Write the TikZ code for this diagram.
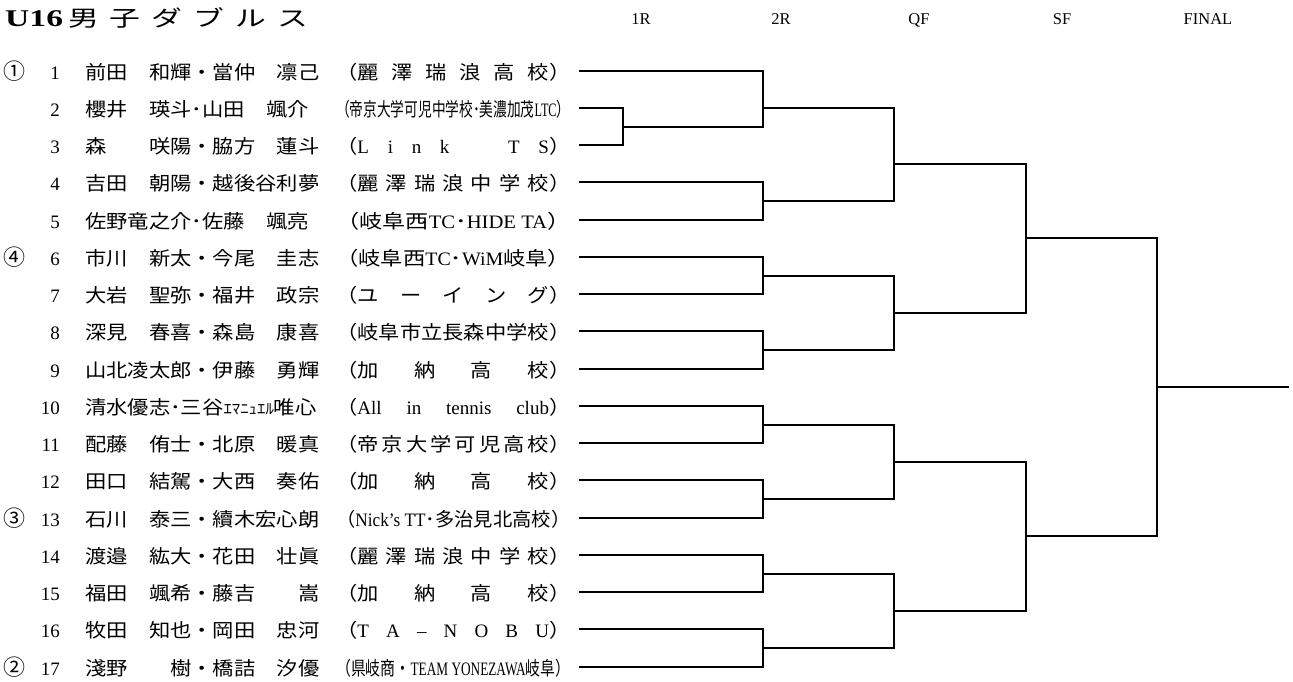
\documentclass[tikz,border=0pt]{standalone}
\usepackage{fontspec}
\usepackage{graphicx}
\setmainfont{Liberation Serif}
\newfontfamily\jp[FakeStretch=1.12]{Noto Sans CJK JP}
\newfontfamily\jpc{Noto Sans CJK JP}
\newfontfamily\jpt[FakeStretch=1.4]{Noto Sans CJK JP}
\newfontfamily\latt[FakeStretch=1.4]{Liberation Serif}
\newlength\orgW \setlength\orgW{234.08pt}
\newcommand\gap{\hskip 0pt plus 1fil\relax}
\newcommand\odist[1]{\makebox[\orgW][s]{#1}}
\newcommand\ofit[1]{\resizebox{\orgW}{\height}{#1}}
\newcommand\lat[1]{{\rmfamily #1}}
\newcommand\player[3]{%
  \pgfmathsetmacro\ry{70.7+(#1-1)*37.25}%
  \node[numtxt] (num#1) at (60,\ry+8.3) {#1};
  \node[nametxt] (name#1) at (85,\ry+8.3) {#2};
  \node[orgtxt] (org#1) at (336,\ry+8.3) {#3};
  \coordinate (r#1) at (579,\ry);
}
\newcommand\seed[2]{%
  \pgfmathsetmacro\ry{70.7+(#1-1)*37.25}%
  \node[seedtxt] (seed#1) at (14,\ry+9.0) {#2};
}
\begin{document}
\begin{tikzpicture}[x=1pt,y=-1pt,
  numtxt/.style={anchor=base east,inner sep=0pt,font=\rmfamily\fontsize{19}{19}\selectfont},
  nametxt/.style={anchor=base west,inner sep=0pt,font=\jp\fontsize{19}{19}\selectfont},
  orgtxt/.style={anchor=base west,inner sep=0pt,font=\jp\fontsize{19}{19}\selectfont},
  seedtxt/.style={anchor=base,inner sep=0pt,font=\jpc\fontsize{22}{22}\selectfont},
  hdr/.style={anchor=base,inner sep=0pt,font=\rmfamily\fontsize{16.5}{16.5}\selectfont},
  bracket/.style={line width=2pt,black,line join=miter}]
\useasboundingbox (0,0) rectangle (1293,681);

% title and round headers
\node[anchor=base west,inner sep=0pt] (title) at (5,26)
  {{\latt\bfseries\fontsize{24}{24}\selectfont U16}\hspace{5pt}{\jpt\fontsize{22}{22}\selectfont 男\hspace{11pt}子\hspace{11pt}ダ\hspace{11pt}ブ\hspace{11pt}ル\hspace{11pt}ス}};
\node[hdr] (h1) at (641,24) {1R};
\node[hdr] (h2) at (781,24) {2R};
\node[hdr] (h3) at (919,24) {QF};
\node[hdr] (h4) at (1062,24) {SF};
\node[hdr] (h5) at (1208,24) {FINAL};

% seeds
\seed{1}{①}
\seed{6}{④}
\seed{13}{③}
\seed{17}{②}

% players
\player{1}{前田　和輝・當仲　凛己}{\odist{（麗\gap 澤\gap 瑞\gap 浪\gap 高\gap 校）}}
\player{2}{櫻井　瑛斗･山田　颯介}{\ofit{（帝京大学可児中学校･美濃加茂\lat{LTC}）}}
\player{3}{森　　咲陽・脇方　蓮斗}{\odist{（\lat{L}\gap\lat{i}\gap\lat{n}\gap\lat{k}\gap 　\gap\lat{T}\gap\lat{S}）}}
\player{4}{吉田　朝陽・越後谷利夢}{\odist{（麗\gap 澤\gap 瑞\gap 浪\gap 中\gap 学\gap 校）}}
\player{5}{佐野竜之介･佐藤　颯亮}{\ofit{（岐阜西\lat{TC}･\lat{HIDE TA}）}}
\player{6}{市川　新太・今尾　圭志}{\ofit{（岐阜西\lat{TC}･\lat{WiM}岐阜）}}
\player{7}{大岩　聖弥・福井　政宗}{\odist{（ユ\gap ー\gap イ\gap ン\gap グ）}}
\player{8}{深見　春喜・森島　康喜}{\odist{（岐阜市立長森中学校）}}
\player{9}{山北凌太郎・伊藤　勇輝}{\odist{（加\gap 納\gap 高\gap 校）}}
\player{10}{清水優志･三谷{\fontsize{15}{15}\selectfont ｴﾏﾆｭｴﾙ}唯心}{\odist{（\lat{All}\gap\lat{in}\gap\lat{tennis}\gap\lat{club}）}}
\player{11}{配藤　侑士・北原　暖真}{\odist{（帝\gap 京\gap 大\gap 学\gap 可\gap 児\gap 高\gap 校）}}
\player{12}{田口　結駕・大西　奏佑}{\odist{（加\gap 納\gap 高\gap 校）}}
\player{13}{石川　泰三・續木宏心朗}{\ofit{（\lat{Nick's TT}･多治見北高校）}}
\player{14}{渡邉　紘大・花田　壮眞}{\odist{（麗\gap 澤\gap 瑞\gap 浪\gap 中\gap 学\gap 校）}}
\player{15}{福田　颯希・藤吉　　嵩}{\odist{（加\gap 納\gap 高\gap 校）}}
\player{16}{牧田　知也・岡田　忠河}{\odist{（\lat{T}\gap\lat{A}\gap\lat{–}\gap\lat{N}\gap\lat{O}\gap\lat{B}\gap\lat{U}）}}
\player{17}{淺野　　樹・橋詰　汐優}{\ofit{（県岐商・\lat{TEAM YONEZAWA}岐阜）}}

% match points
\coordinate (mA) at (622.7,126.575);
\coordinate (mB) at (763,107.95);
\coordinate (mC) at (763,201.075);
\coordinate (mD) at (894.3,163.825);
\coordinate (mE) at (763,275.575);
\coordinate (mF) at (763,350.075);
\coordinate (mG) at (894.3,312.825);
\coordinate (mH) at (1025.7,238.325);
\coordinate (mI) at (763,424.575);
\coordinate (mJ) at (763,499.075);
\coordinate (mK) at (894.3,461.825);
\coordinate (mL) at (763,573.575);
\coordinate (mM) at (763,648.075);
\coordinate (mN) at (894.3,610.825);
\coordinate (mO) at (1025.7,536.325);
\coordinate (mP) at (1156.7,387.325);
\coordinate (fin) at (1289,387.325);

\draw[bracket] (r2) -| (mA); \draw[bracket] (r3) -| (mA);
\draw[bracket] (r1) -| (mB); \draw[bracket] (mA) -| (mB);
\draw[bracket] (r4) -| (mC); \draw[bracket] (r5) -| (mC);
\draw[bracket] (mB) -| (mD); \draw[bracket] (mC) -| (mD);
\draw[bracket] (r6) -| (mE); \draw[bracket] (r7) -| (mE);
\draw[bracket] (r8) -| (mF); \draw[bracket] (r9) -| (mF);
\draw[bracket] (mE) -| (mG); \draw[bracket] (mF) -| (mG);
\draw[bracket] (mD) -| (mH); \draw[bracket] (mG) -| (mH);
\draw[bracket] (r10) -| (mI); \draw[bracket] (r11) -| (mI);
\draw[bracket] (r12) -| (mJ); \draw[bracket] (r13) -| (mJ);
\draw[bracket] (mI) -| (mK); \draw[bracket] (mJ) -| (mK);
\draw[bracket] (r14) -| (mL); \draw[bracket] (r15) -| (mL);
\draw[bracket] (r16) -| (mM); \draw[bracket] (r17) -| (mM);
\draw[bracket] (mL) -| (mN); \draw[bracket] (mM) -| (mN);
\draw[bracket] (mK) -| (mO); \draw[bracket] (mN) -| (mO);
\draw[bracket] (mH) -| (mP); \draw[bracket] (mO) -| (mP);
\draw[bracket] (mP) -- (fin);
\end{tikzpicture}
\end{document}
